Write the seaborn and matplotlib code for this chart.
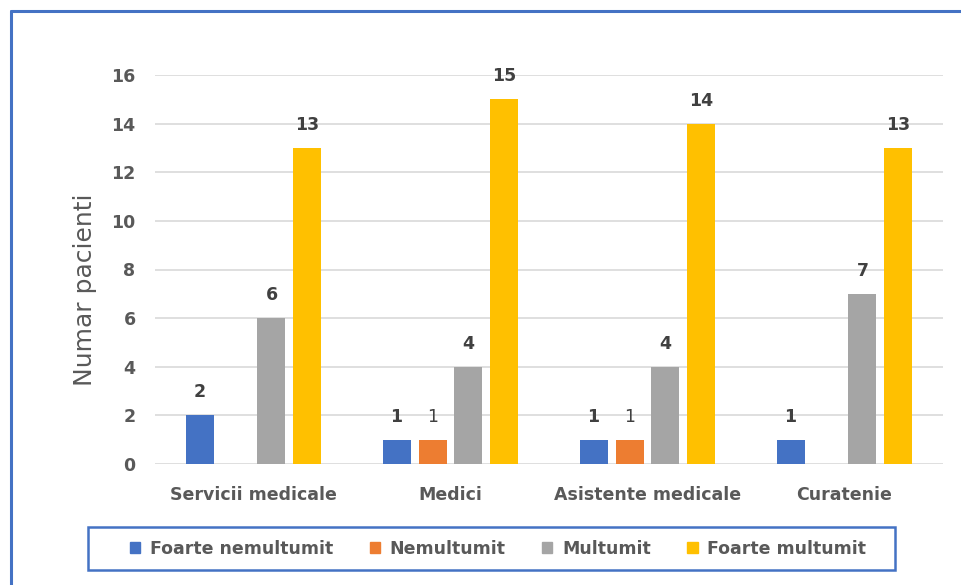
import pandas as pd
import numpy as np
import seaborn as sns
from matplotlib import pyplot as plt
from matplotlib.lines import Line2D
from matplotlib.patches import Rectangle

# date
categorii = ["Servicii medicale", "Medici", "Asistente medicale", "Curatenie"]
serii = ["Foarte nemultumit", "Nemultumit", "Multumit", "Foarte multumit"]
foarte_nemultumit = [2, 1, 1, 1]
nemultumit = [0, 1, 1, 0]
multumit = [6, 4, 4, 7]
foarte_multumit = [13, 15, 14, 13]
culori = ["#4472C4", "#ED7D31", "#A5A5A5", "#FFC000"]

valori = [foarte_nemultumit, nemultumit, multumit, foarte_multumit]
rows = []
for s, vals in zip(serii, valori):
    for c, v in zip(categorii, vals):
        rows.append({"Categorie": c, "Serie": s, "Valoare": v})
df = pd.DataFrame(rows)

sns.set_style("white")
plt.rcParams['font.family'] = ['DejaVu Sans']

W, H = 961, 585
fig = plt.figure(figsize=(W/100, H/100), dpi=100)
ax = fig.add_axes([155/W, 1-464/H, (943-155)/W, (464-75)/H])

sns.barplot(data=df, x="Categorie", y="Valoare", hue="Serie", order=categorii,
            hue_order=serii, palette=culori, width=0.73, gap=0.22,
            saturation=1, ax=ax, legend=True, errorbar=None, linewidth=0)

ax.set_ylim(0, 16)
ax.set_yticks(range(0, 17, 2))
ax.grid(axis="y", color="#D9D9D9", linewidth=1.2)
ax.set_axisbelow(True)
for sp in ax.spines.values():
    sp.set_visible(False)
ax.tick_params(length=0, labelsize=12.5, labelcolor="#595959")
ax.tick_params(axis="x", pad=16)
ax.tick_params(axis="y", pad=14)
for lab in ax.get_xticklabels() + ax.get_yticklabels():
    lab.set_fontweight("bold")
ax.set_xlabel("")
ax.set_ylabel("Numar pacienti", fontsize=18, color="#595959")
ax.yaxis.set_label_coords(-0.073, 0.447)

# etichete valori
for i, cont in enumerate(ax.containers):
    labs = [f"{int(v)}" if v > 0 else "" for v in cont.datavalues]
    ax.bar_label(cont, labels=labs, padding=10, fontsize=12.5, color="#404040",
                 fontweight="normal" if i == 1 else "bold")

ax.get_legend().remove()
handles = [plt.Rectangle((0, 0), 1, 1, color=c) for c in culori]
leg = fig.legend(handles, serii, loc="center", ncol=4, frameon=False,
                 bbox_to_anchor=(498/W, 1-548.5/H),
                 handlelength=0.6, handleheight=0.6, handletextpad=0.55,
                 columnspacing=2.1, borderaxespad=0, fontsize=12.5)
for t in leg.get_texts():
    t.set_color("#595959")
    t.set_fontweight("bold")

# chenar legenda
fig.add_artist(Rectangle((88/W, 1-570/H), (895-88)/W, (570-527)/H, transform=fig.transFigure,
                         fill=False, edgecolor="#4472C4", linewidth=1.8))

# rama albastra
fig.add_artist(Line2D([11/W, 1], [1-11/H, 1-11/H], color="#4472C4", linewidth=2.2))
fig.add_artist(Line2D([11/W, 11/W], [0, 1-11/H], color="#4472C4", linewidth=2.2))

plt.savefig("out.png", dpi=100)
